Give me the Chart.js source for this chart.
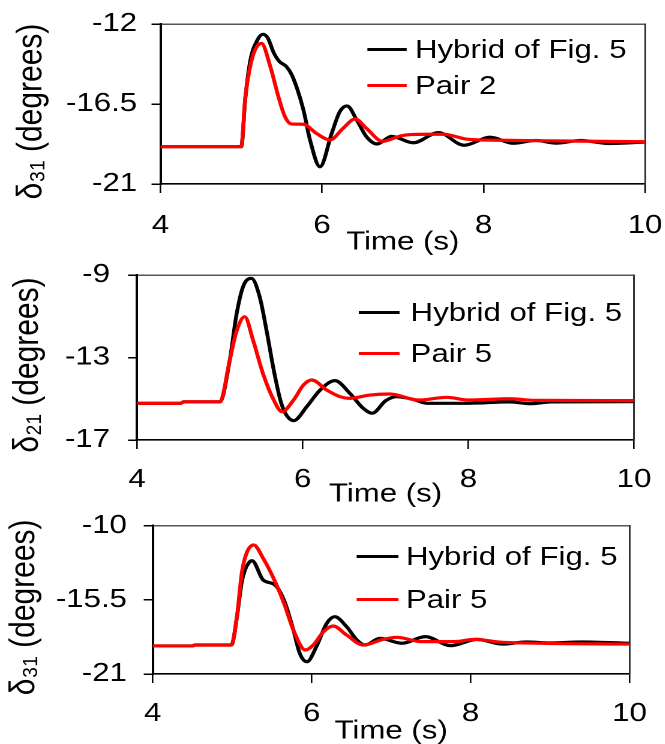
<!DOCTYPE html>
<html><head><meta charset="utf-8">
<script src="https://cdn.jsdelivr.net/npm/chart.js@4.4.1/dist/chart.umd.min.js"></script>
<style>
html,body{margin:0;padding:0;background:#fff;overflow:hidden;width:665px;height:744px;}
#stage{position:absolute;left:0;top:0;width:554.1667px;height:744px;transform:scaleX(1.2);transform-origin:0 0;}
.panel{position:absolute;left:0;width:554.1667px;}
.leg{position:absolute;display:flex;align-items:center;font-family:'Liberation Sans',Arial,sans-serif;font-size:26px;line-height:26px;height:26px;color:#000;white-space:nowrap;}
.leg i{display:block;height:3px;}
</style></head><body><div id="stage"></div>
<script>
// ---- data ----
const xTicks = [4, 6, 8, 10];

// Panel 1 : delta31, Hybrid of Fig. 5 vs Pair 2
const p1Labels = ['Hybrid of Fig. 5', 'Pair 2'];
const p1YTicks = [-21, -16.5, -12];
const p1HybridT = [4, 5.0, 5.05, 5.11, 5.2, 5.27, 5.33, 5.4, 5.47, 5.56, 5.63, 5.77, 5.85, 5.975, 6.12, 6.22, 6.31, 6.43, 6.55, 6.68, 6.86, 7.13, 7.44, 7.76, 8.08, 8.37, 8.65, 8.9, 9.2, 9.55, 10];
const p1HybridV = [-18.9, -18.9, -16.2, -14.1, -12.9, -12.58, -12.8, -13.6, -14.1, -14.4, -14.9, -16.84, -18.5, -20.03, -18.15, -16.93, -16.61, -17.4, -18.34, -18.75, -18.32, -18.68, -18.11, -18.82, -18.37, -18.71, -18.55, -18.7, -18.55, -18.72, -18.64];
const p1PairT = [4, 5.0, 5.05, 5.11, 5.17, 5.25, 5.36, 5.46, 5.54, 5.62, 5.77, 5.93, 6.10, 6.26, 6.41, 6.55, 6.75, 6.97, 7.1, 7.3, 7.5, 7.8, 8.2, 9, 10];
const p1PairV = [-18.9, -18.9, -16.1, -14.4, -13.46, -13.09, -14.4, -16.09, -17.2, -17.62, -17.64, -18.15, -18.52, -17.87, -17.34, -17.87, -18.6, -18.3, -18.22, -18.2, -18.2, -18.48, -18.54, -18.58, -18.62];

// Panel 2 : delta21, Hybrid of Fig. 5 vs Pair 5
const p2Labels = ['Hybrid of Fig. 5', 'Pair 5'];
const p2YTicks = [-17, -13, -9];
const p2HybridT = [4, 4.53, 4.56, 5.0, 5.12, 5.2, 5.28, 5.38, 5.48, 5.57, 5.65, 5.73, 5.79, 5.89, 6.05, 6.21, 6.39, 6.57, 6.73, 6.84, 7.0, 7.13, 7.35, 7.5, 8.0, 8.5, 8.75, 9.0, 10];
const p2HybridV = [-15.22, -15.22, -15.15, -15.15, -13.12, -10.94, -9.57, -9.16, -10.05, -11.83, -13.6, -15.06, -15.7, -16.06, -15.38, -14.58, -14.12, -14.74, -15.46, -15.7, -15.1, -14.9, -15.05, -15.22, -15.22, -15.15, -15.24, -15.15, -15.14];
const p2PairT = [4, 4.53, 4.56, 5.0, 5.12, 5.2, 5.30, 5.40, 5.52, 5.65, 5.75, 5.89, 6.01, 6.11, 6.29, 6.45, 6.57, 6.81, 7.05, 7.4, 7.74, 8.0, 8.51, 8.8, 10];
const p2PairV = [-15.22, -15.22, -15.15, -15.15, -13.12, -11.75, -11.02, -12.15, -13.77, -15.06, -15.63, -15.06, -14.33, -14.09, -14.58, -14.9, -14.98, -14.82, -14.77, -15.06, -14.93, -15.06, -15.0, -15.08, -15.09];

// Panel 3 : delta31, Hybrid of Fig. 5 vs Pair 5
const p3Labels = ['Hybrid of Fig. 5', 'Pair 5'];
const p3YTicks = [-21, -15.5, -10];
const p3HybridT = [4, 4.5, 4.53, 4.99, 5.06, 5.12, 5.16, 5.21, 5.25, 5.39, 5.54, 5.66, 5.77, 5.85, 5.94, 6.06, 6.19, 6.29, 6.44, 6.57, 6.67, 6.86, 7.14, 7.43, 7.75, 8.08, 8.4, 8.7, 9.0, 9.4, 10];
const p3HybridV = [-18.92, -18.92, -18.85, -18.85, -16.75, -14.2, -13.3, -12.75, -12.6, -14.03, -14.4, -15.64, -17.74, -19.47, -20.09, -18.97, -17.24, -16.75, -17.49, -18.48, -18.85, -18.36, -18.72, -18.23, -18.9, -18.43, -18.78, -18.62, -18.7, -18.62, -18.72];
const p3PairT = [4, 4.5, 4.53, 4.99, 5.06, 5.12, 5.18, 5.27, 5.39, 5.54, 5.66, 5.77, 5.92, 6.02, 6.15, 6.27, 6.44, 6.65, 6.9, 7.07, 7.38, 7.8, 8.05, 8.4, 10];
const p3PairV = [-18.92, -18.92, -18.85, -18.85, -16.75, -13.53, -12.05, -11.43, -12.42, -14.15, -15.88, -17.74, -19.22, -18.85, -17.86, -17.44, -18.11, -18.85, -18.43, -18.28, -18.6, -18.6, -18.43, -18.65, -18.78];

// ---- layout (internal px; stage is stretched 1.2x horizontally) ----
const FONT = "'Liberation Sans', Arial, sans-serif";
Chart.defaults.font.family = FONT;
Chart.defaults.color = '#000';
const panels = [
  {top: 0, height: 258, chartTop: 24, yW: 133.75, padR: 16.67, xH: 74, yTitle: 'δ\u2083\u2081 (degrees)\u2002',
   yTicks: p1YTicks, tickPadX: 17.4, tickPadY: 12, titlePadY: 8, labels: p1Labels,
   series: [[p1HybridT, p1HybridV], [p1PairT, p1PairV]],
   leg: {x: 305.6, w: 33.6, gap: 6.6, ys: [49, 85]}},
  {top: 250, height: 260, chartTop: 25, yW: 114.17, padR: 25.83, xH: 70, yTitle: 'δ\u2082\u2081 (degrees)\u2002',
   yTicks: p2YTicks, tickPadX: 15.4, tickPadY: 15, titlePadY: 5, labels: p2Labels,
   series: [[p2HybridT, p2HybridV], [p2PairT, p2PairV]],
   leg: {x: 298.6, w: 34.7, gap: 8.9, ys: [312, 353]}},
  {top: 500, height: 247, chartTop: 25.7, yW: 127.25, padR: 29.58, xH: 73, yTitle: 'δ\u2083\u2081 (degrees)\u2002',
   yTicks: p3YTicks, tickPadX: 15.4, tickPadY: 14, titlePadY: 2.2, labels: p3Labels,
   series: [[p3HybridT, p3HybridV], [p3PairT, p3PairV]],
   leg: {x: 296.7, w: 35, gap: 6.6, ys: [556, 599]}}
];
const colors = ['#000000', '#ff0000'];
const stage = document.getElementById('stage');

panels.forEach(p => {
  const div = document.createElement('div');
  div.className = 'panel';
  div.style.top = p.top + 'px';
  div.style.height = p.height + 'px';
  const cv = document.createElement('canvas');
  div.appendChild(cv);
  stage.appendChild(div);
  const yMin = p.yTicks[0], yMax = p.yTicks[p.yTicks.length - 1];
  const chart = new Chart(cv, {
    type: 'line',
    data: {
      datasets: p.series.map((s, i) => ({
        label: p.labels[i],
        data: s[0].map((t, k) => ({x: t, y: s[1][k]})),
        borderColor: colors[i],
        backgroundColor: colors[i],
        borderWidth: 3.2,
        pointRadius: 0,
        fill: false,
        cubicInterpolationMode: 'monotone',
        order: i === 0 ? 1 : 0
      }))
    },
    options: {
      responsive: true,
      maintainAspectRatio: false,
      animation: false,
      devicePixelRatio: 2,
      layout: {padding: {top: p.chartTop, left: 0, right: p.padR, bottom: 0}},
      plugins: {legend: {display: false}, tooltip: {enabled: false}},
      scales: {
        x: {
          type: 'linear', position: 'bottom', min: 4, max: 10,
          afterBuildTicks: s => { s.ticks = xTicks.map(v => ({value: v})); },
          afterFit: s => { s.height = p.xH; s.paddingLeft = 0; s.paddingRight = 0; },
          ticks: {font: {size: 26}, color: '#000', padding: p.tickPadX, maxRotation: 0, autoSkip: false, callback: v => String(v)},
          grid: {display: true, drawOnChartArea: false, drawTicks: true, tickLength: 9, color: '#000', lineWidth: 1.3},
          border: {display: true, color: '#000', width: 1.6},
          title: {display: true, text: 'Time (s)', font: {size: 26}, color: '#000', padding: 0}
        },
        xTop: {
          type: 'linear', position: 'top', min: 4, max: 10,
          afterFit: s => { s.height = 0; s.paddingLeft = 0; s.paddingRight = 0; },
          ticks: {display: false},
          grid: {display: false},
          border: {display: true, color: '#555', width: 1.5}
        },
        y: {
          type: 'linear', position: 'left', min: yMin, max: yMax,
          afterBuildTicks: s => { s.ticks = p.yTicks.map(v => ({value: v})); },
          afterFit: s => { s.width = p.yW; s.paddingTop = 0; s.paddingBottom = 0; },
          ticks: {font: {size: 26}, color: '#000', padding: p.tickPadY, autoSkip: false, callback: v => String(v)},
          grid: {display: true, drawOnChartArea: false, drawTicks: true, tickLength: 7.5, color: '#000', lineWidth: 1.5},
          border: {display: true, color: '#000', width: 2},
          title: {display: true, text: p.yTitle, font: {size: 30}, color: '#000', padding: {top: p.titlePadY, bottom: 0}}
        },
        yRight: {
          type: 'linear', position: 'right', min: yMin, max: yMax,
          afterFit: s => { s.width = 0; s.paddingTop = 0; s.paddingBottom = 0; },
          ticks: {display: false},
          grid: {display: false},
          border: {display: true, color: '#333', width: 1.5}
        }
      }
    }
  });
  // legend built from the chart's datasets
  chart.data.datasets.forEach((ds, i) => {
    const row = document.createElement('div');
    row.className = 'leg';
    row.style.left = p.leg.x + 'px';
    row.style.top = (p.leg.ys[i] - 13) + 'px';
    const ln = document.createElement('i');
    ln.style.width = p.leg.w + 'px';
    ln.style.marginRight = p.leg.gap + 'px';
    ln.style.background = ds.borderColor;
    const tx = document.createElement('span');
    tx.textContent = ds.label;
    row.appendChild(ln);
    row.appendChild(tx);
    stage.appendChild(row);
  });
});
</script></body></html>
